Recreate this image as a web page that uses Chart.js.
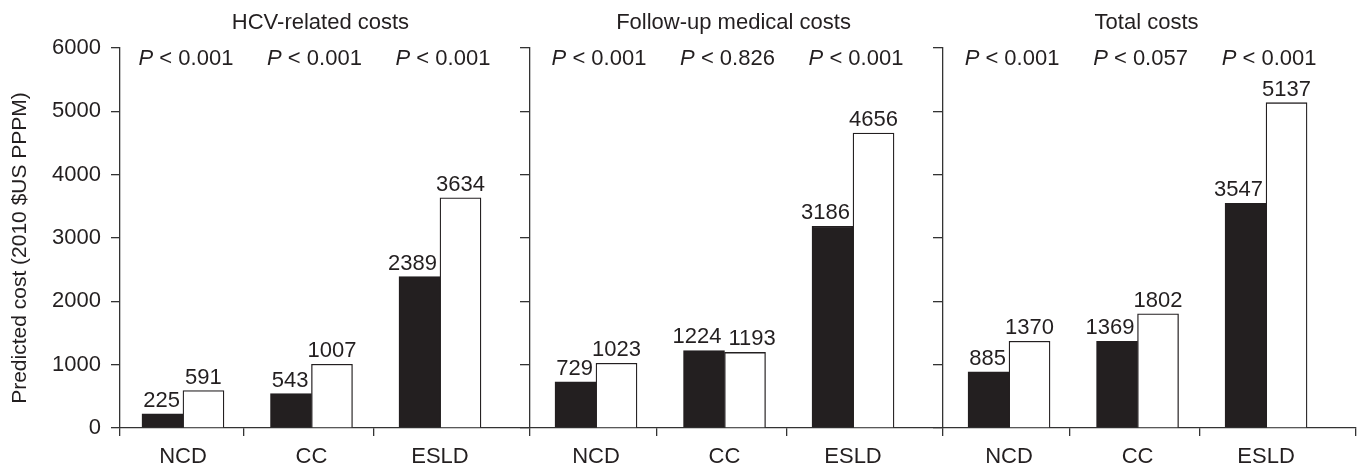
<!DOCTYPE html>
<html>
<head>
<meta charset="utf-8">
<script src="https://cdn.jsdelivr.net/npm/chart.js@4.4.0/dist/chart.umd.min.js"></script>
<style>
  html, body { margin: 0; padding: 0; background: #fff; }
</style>
</head>
<body>
<canvas id="costChart" width="1360" height="470"></canvas>
<script>
const categories = ['NCD', 'CC', 'ESLD'];
const panelTitles = ['HCV-related costs', 'Follow-up medical costs', 'Total costs'];

const blackHcv = [225, 543, 2389];
const whiteHcv = [591, 1007, 3634];
const blackFollowUp = [729, 1224, 3186];
const whiteFollowUp = [1023, 1193, 4656];
const blackTotal = [885, 1369, 3547];
const whiteTotal = [1370, 1802, 5137];

const pHcv = ['< 0.001', '< 0.001', '< 0.001'];
const pFollowUp = ['< 0.001', '< 0.826', '< 0.001'];
const pTotal = ['< 0.001', '< 0.057', '< 0.001'];

const yTicks = [0, 1000, 2000, 3000, 4000, 5000, 6000];
const yTitle = 'Predicted cost (2010 $US PPPM)';

// x layout in "category" units: categories 1 apart, panels 3.214 apart
const panelStep = 3.214;
const panelLeft = -0.49;
const panelRight = 2.70;
const catEdges = [0.47, 1.48];

const ink = '#231f20';
const axisColor = '#333333';
const font = "'Liberation Sans', Arial, Helvetica, sans-serif";
const fontSize = 22;
Chart.defaults.font.family = font;
Chart.defaults.font.size = fontSize;
Chart.defaults.color = ink;

const blackPanels = [blackHcv, blackFollowUp, blackTotal];
const whitePanels = [whiteHcv, whiteFollowUp, whiteTotal];
const pPanels = [pHcv, pFollowUp, pTotal];

function toPoints(panels) {
  const pts = [];
  panels.forEach((vals, p) => vals.forEach((v, c) => pts.push({ x: p * panelStep + c, y: v })));
  return pts;
}

const xMin = panelLeft;
const xMax = (panelTitles.length - 1) * panelStep + panelRight;

const edgeTicks = [];
const centerTicks = [];
panelTitles.forEach((t, p) => {
  edgeTicks.push(p === 0 ? panelLeft : (p - 1) * panelStep + panelRight);
  catEdges.forEach(e => edgeTicks.push(p * panelStep + e));
  categories.forEach((c, i) => centerTicks.push(p * panelStep + i));
});
edgeTicks.push(xMax);

// labels above bars, p-values, panel titles and the y title
const costLabels = {
  id: 'costLabels',
  afterDatasetsDraw(chart) {
    const ctx = chart.ctx;
    const xs = chart.scales.x;
    const blackBars = chart.getDatasetMeta(0).data;
    const whiteBars = chart.getDatasetMeta(1).data;
    const blackData = chart.data.datasets[0].data;
    const whiteData = chart.data.datasets[1].data;
    const plain = fontSize + 'px ' + font;
    const italic = 'italic ' + fontSize + 'px ' + font;
    ctx.save();
    ctx.fillStyle = ink;
    ctx.font = plain;
    ctx.textAlign = 'center';
    ctx.textBaseline = 'alphabetic';
    blackBars.forEach((b, i) => {
      const w = whiteBars[i];
      const bt = String(blackData[i].y);
      const wt = String(whiteData[i].y);
      const bw = ctx.measureText(bt).width;
      const ww = ctx.measureText(wt).width;
      const bRight = b.x + b.width / 2;
      const bx = Math.min(b.x, bRight - 3 - bw / 2);
      let wx = w.x;
      const by = b.y - 7;
      const wy = w.y - 7;
      if (Math.abs(by - wy) < 18 && wx - ww / 2 < bx + bw / 2 + 4) {
        wx = Math.max(wx, bRight + 4 + ww / 2);
      }
      ctx.fillText(bt, bx, by);
      ctx.fillText(wt, wx, wy);
    });

    // P values
    ctx.textBaseline = 'middle';
    ctx.textAlign = 'left';
    pPanels.forEach((list, p) => {
      list.forEach((txt, c) => {
        const cx = xs.getPixelForValue(p * panelStep + c) + 3;
        ctx.font = italic;
        const pw = ctx.measureText('P').width;
        ctx.font = plain;
        const rest = ' ' + txt;
        const rw = ctx.measureText(rest).width;
        const x0 = cx - (pw + rw) / 2;
        ctx.font = italic;
        ctx.fillText('P', x0, 59);
        ctx.font = plain;
        ctx.fillText(rest, x0 + pw, 59);
      });
    });

    // panel titles
    ctx.textAlign = 'center';
    panelTitles.forEach((t, p) => {
      ctx.fillText(t, xs.getPixelForValue(p * panelStep + 1) + 9, 23);
    });

    // y axis title
    ctx.font = '21px ' + font;
    ctx.translate(20, 248);
    ctx.rotate(-Math.PI / 2);
    ctx.fillText(yTitle, 0, 0);
    ctx.restore();
  }
};

function dividerAxis(xValue) {
  return {
    type: 'linear',
    axis: 'y',
    position: { x: xValue },
    min: 0,
    max: 6000,
    afterBuildTicks: s => { s.ticks = yTicks.map(v => ({ value: v })); },
    ticks: { display: false },
    grid: { drawOnChartArea: false, drawTicks: true, tickLength: 9, color: axisColor, lineWidth: 1.3 },
    border: { display: true, color: axisColor, width: 1.3 }
  };
}

new Chart(document.getElementById('costChart').getContext('2d'), {
  type: 'bar',
  data: {
    datasets: [{
      label: 'black',
      data: toPoints(blackPanels),
      backgroundColor: ink,
      borderColor: ink,
      borderWidth: 1.3,
      barThickness: 41
    }, {
      label: 'white',
      data: toPoints(whitePanels),
      backgroundColor: '#ffffff',
      borderColor: ink,
      borderWidth: 1.3,
      barThickness: 41
    }]
  },
  options: {
    responsive: false,
    animation: false,
    devicePixelRatio: 1,
    layout: { padding: { top: 48, right: 4, left: 0, bottom: 0 } },
    plugins: { legend: { display: false }, tooltip: { enabled: false } },
    scales: {
      x: {
        type: 'linear',
        position: 'bottom',
        offset: false,
        weight: 0,
        min: xMin,
        max: xMax,
        afterBuildTicks: s => { s.ticks = edgeTicks.map(v => ({ value: v })); },
        afterFit: s => { s.height = 8; },
        ticks: { display: false, autoSkip: false },
        grid: { offset: false, drawOnChartArea: false, drawTicks: true, tickLength: 8, color: axisColor, lineWidth: 1.3 },
        border: { display: true, color: axisColor, width: 1.3 }
      },
      xl: {
        type: 'linear',
        axis: 'x',
        position: 'bottom',
        offset: false,
        weight: 1,
        min: xMin,
        max: xMax,
        afterBuildTicks: s => { s.ticks = centerTicks.map(v => ({ value: v })); },
        afterFit: s => { s.height = 34; },
        ticks: {
          autoSkip: false,
          maxRotation: 0,
          padding: 8,
          color: ink,
          callback: (v, i) => categories[i % categories.length]
        },
        grid: { display: false, drawTicks: false, offset: false },
        border: { display: false }
      },
      y: {
        type: 'linear',
        position: 'left',
        min: 0,
        max: 6000,
        afterBuildTicks: s => { s.ticks = yTicks.map(v => ({ value: v })); },
        afterFit: s => { s.width = 120; },
        ticks: { padding: 10, color: ink, callback: v => String(v) },
        grid: { drawOnChartArea: false, drawTicks: true, tickLength: 9, color: axisColor, lineWidth: 1.3 },
        border: { display: true, color: axisColor, width: 1.3 }
      },
      y2: dividerAxis(panelRight),
      y3: dividerAxis(panelStep + panelRight)
    }
  },
  plugins: [costLabels]
});
</script>
</body>
</html>
